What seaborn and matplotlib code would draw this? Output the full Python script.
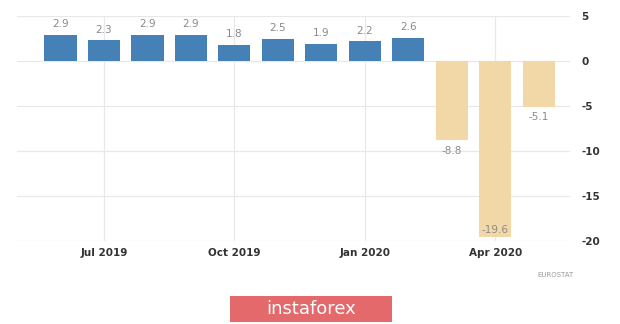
import matplotlib
matplotlib.use("Agg")
import matplotlib.pyplot as plt
import seaborn as sns
import pandas as pd
from matplotlib.patches import FancyBboxPatch

months = ["Jun 2019", "Jul 2019", "Aug 2019", "Sep 2019", "Oct 2019", "Nov 2019",
          "Dec 2019", "Jan 2020", "Feb 2020", "Mar 2020", "Apr 2020", "May 2020"]
values = [2.9, 2.3, 2.9, 2.9, 1.8, 2.5, 1.9, 2.2, 2.6, -8.8, -19.6, -5.1]
tick_months = ["Jul 2019", "Oct 2019", "Jan 2020", "Apr 2020"]
y_ticks = [5, 0, -5, -10, -15, -20]

df = pd.DataFrame({"month": months, "value": values})
df["sign"] = ["pos" if v >= 0 else "neg" for v in values]

sns.set_theme(style="white")
plt.rcParams["font.family"] = ["DejaVu Sans"]

fig = plt.figure(figsize=(6.2, 3.24), dpi=100)
ax = fig.add_axes([17 / 620, 1 - 241 / 324, (570 - 17) / 620, (241 - 16) / 324])

sns.barplot(data=df, x="month", y="value", hue="sign", order=months,
            palette={"pos": "#4581B6", "neg": "#F3D8A7"}, dodge=False,
            width=0.74, legend=False, ax=ax, zorder=3, saturation=1,
            linewidth=0)

ax.set_xlim(-1.0, 11.72)
ax.set_ylim(-20, 5)
ax.set_yticks(y_ticks)
ax.set_yticklabels([str(t) for t in y_ticks])
ax.yaxis.tick_right()
ax.set_xticks([months.index(m) for m in tick_months])
ax.set_xticklabels(tick_months)
ax.tick_params(axis="both", length=0, labelsize=7.5, colors="#333333")
ax.tick_params(axis="y", pad=8)
ax.tick_params(axis="x", pad=5)
for lbl in ax.get_xticklabels() + ax.get_yticklabels():
    lbl.set_fontweight("semibold")
ax.grid(True, color="#e8e8e8", linewidth=0.9, zorder=0)
ax.set_axisbelow(True)
for s in ax.spines.values():
    s.set_visible(False)
ax.set_xlabel("")
ax.set_ylabel("")

ymin = ax.get_ylim()[0]
for i, v in enumerate(values):
    if v >= 0:
        ax.annotate(f"{v:.1f}", (i, v), xytext=(0, 4), textcoords="offset points",
                    ha="center", va="bottom", fontsize=7.5, color="#8a8a8a")
    elif v - ymin < 2:
        # too close to the bottom edge: keep the label inside the bar
        ax.annotate(f"{v:.1f}", (i, v), xytext=(0, 2), textcoords="offset points",
                    ha="center", va="bottom", fontsize=7.5, color="#8a8a8a")
    else:
        ax.annotate(f"{v:.1f}", (i, v), xytext=(0, -4), textcoords="offset points",
                    ha="center", va="top", fontsize=7.5, color="#8a8a8a")

fig.text(555 / 620, 1 - 275 / 324, "EUROSTAT", fontsize=5, color="#999999",
         ha="center", va="center")

box = FancyBboxPatch((230 / 620, 1 - 322 / 324), 162 / 620, 26 / 324,
                     boxstyle="square,pad=0", transform=fig.transFigure,
                     facecolor="#E3696B", edgecolor="none")
fig.patches.append(box)
fig.text(311 / 620, 1 - 309 / 324, "instaforex", fontsize=13, color="white",
         ha="center", va="center")

fig.savefig("out.png", dpi=100, facecolor="white")
